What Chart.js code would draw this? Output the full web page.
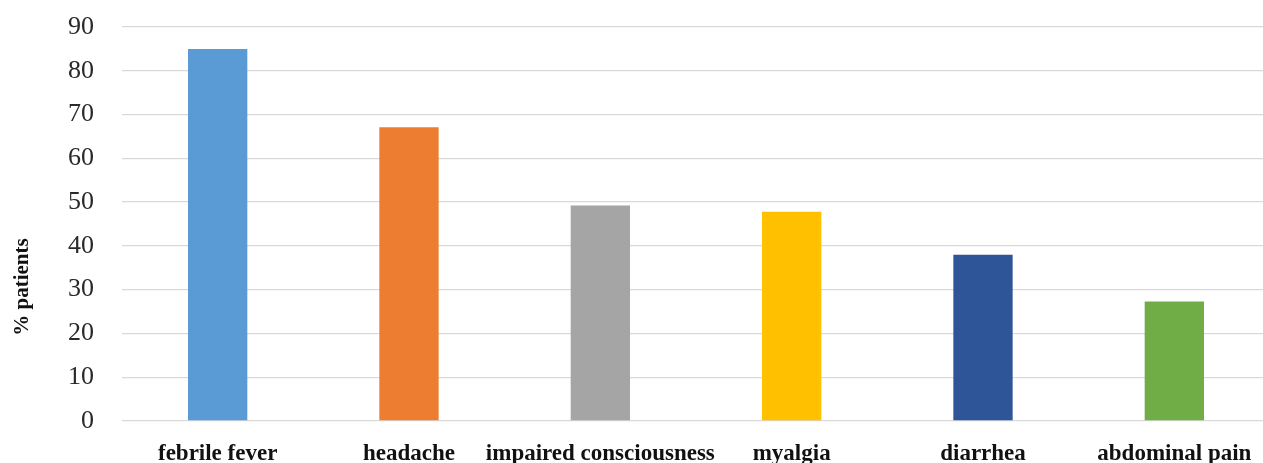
<!DOCTYPE html>
<html>
<head>
<meta charset="utf-8">
<script src="https://cdn.jsdelivr.net/npm/chart.js@4/dist/chart.umd.min.js"></script>
<style>
  html, body { margin: 0; padding: 0; background: #fff; overflow: hidden; }
  #wrap { width: 1272px; height: 463px; position: relative; }
</style>
</head>
<body>
<div id="wrap"><canvas id="c"></canvas></div>
<script>
// Symptoms and share of patients presenting each (%)
const symptoms = ['febrile fever', 'headache', 'impaired consciousness', 'myalgia', 'diarrhea', 'abdominal pain'];
const percentPatients = [85, 67.1, 49.2, 47.8, 38, 27.3];
const barColors = ['#5B9BD5', '#ED7D31', '#A5A5A5', '#FFC000', '#2E5597', '#70AD47'];
const yTickValues = [0, 10, 20, 30, 40, 50, 60, 70, 80, 90];
const yAxisTitle = '% patients';

const serif = '"Liberation Serif", "Times New Roman", serif';

// Rotated y-axis caption, placed a little below the middle of the plot
const yCaption = {
  id: 'yCaption',
  afterDraw(chart) {
    const { ctx, chartArea } = chart;
    const x = chartArea.left - 99;
    const y = chartArea.top + (chartArea.bottom - chartArea.top) * 0.66;
    ctx.save();
    ctx.translate(x, y);
    ctx.rotate(-Math.PI / 2);
    ctx.font = 'bold 21px ' + serif;
    ctx.fillStyle = '#111';
    ctx.textAlign = 'center';
    ctx.textBaseline = 'middle';
    ctx.fillText(yAxisTitle, 0, 0);
    ctx.restore();
  }
};

new Chart(document.getElementById('c'), {
  type: 'bar',
  data: {
    labels: symptoms,
    datasets: [{
      data: percentPatients,
      backgroundColor: barColors,
      borderWidth: 0,
      barPercentage: 0.31,
      categoryPercentage: 1
    }]
  },
  options: {
    responsive: true,
    maintainAspectRatio: false,
    animation: false,
    layout: { padding: { top: 27, right: 2, left: 0, bottom: 0 } },
    plugins: { legend: { display: false }, tooltip: { enabled: false } },
    scales: {
      x: {
        grid: { display: false },
        border: { display: false },
        ticks: {
          color: '#111',
          padding: 11,
          maxRotation: 0,
          autoSkip: false,
          font: { family: serif, size: 23, weight: 'bold' }
        },
        afterFit(scale) {
          scale.height = 42;
          scale.paddingLeft = 0; scale.paddingRight = 0;
          scale.paddingTop = 0; scale.paddingBottom = 0;
        }
      },
      y: {
        min: 0,
        max: 90,
        afterBuildTicks(scale) { scale.ticks = yTickValues.map(v => ({ value: v })); },
        grid: { color: '#d9d9d9', lineWidth: 1.3, drawTicks: false },
        border: { display: false },
        ticks: {
          color: '#2a2a2a',
          padding: 28,
          font: { family: serif, size: 26 }
        },
        afterFit(scale) {
          scale.width = 122;
          scale.paddingTop = 0; scale.paddingBottom = 0;
          scale.paddingLeft = 0; scale.paddingRight = 0;
        }
      }
    }
  },
  plugins: [yCaption]
});
</script>
</body>
</html>
